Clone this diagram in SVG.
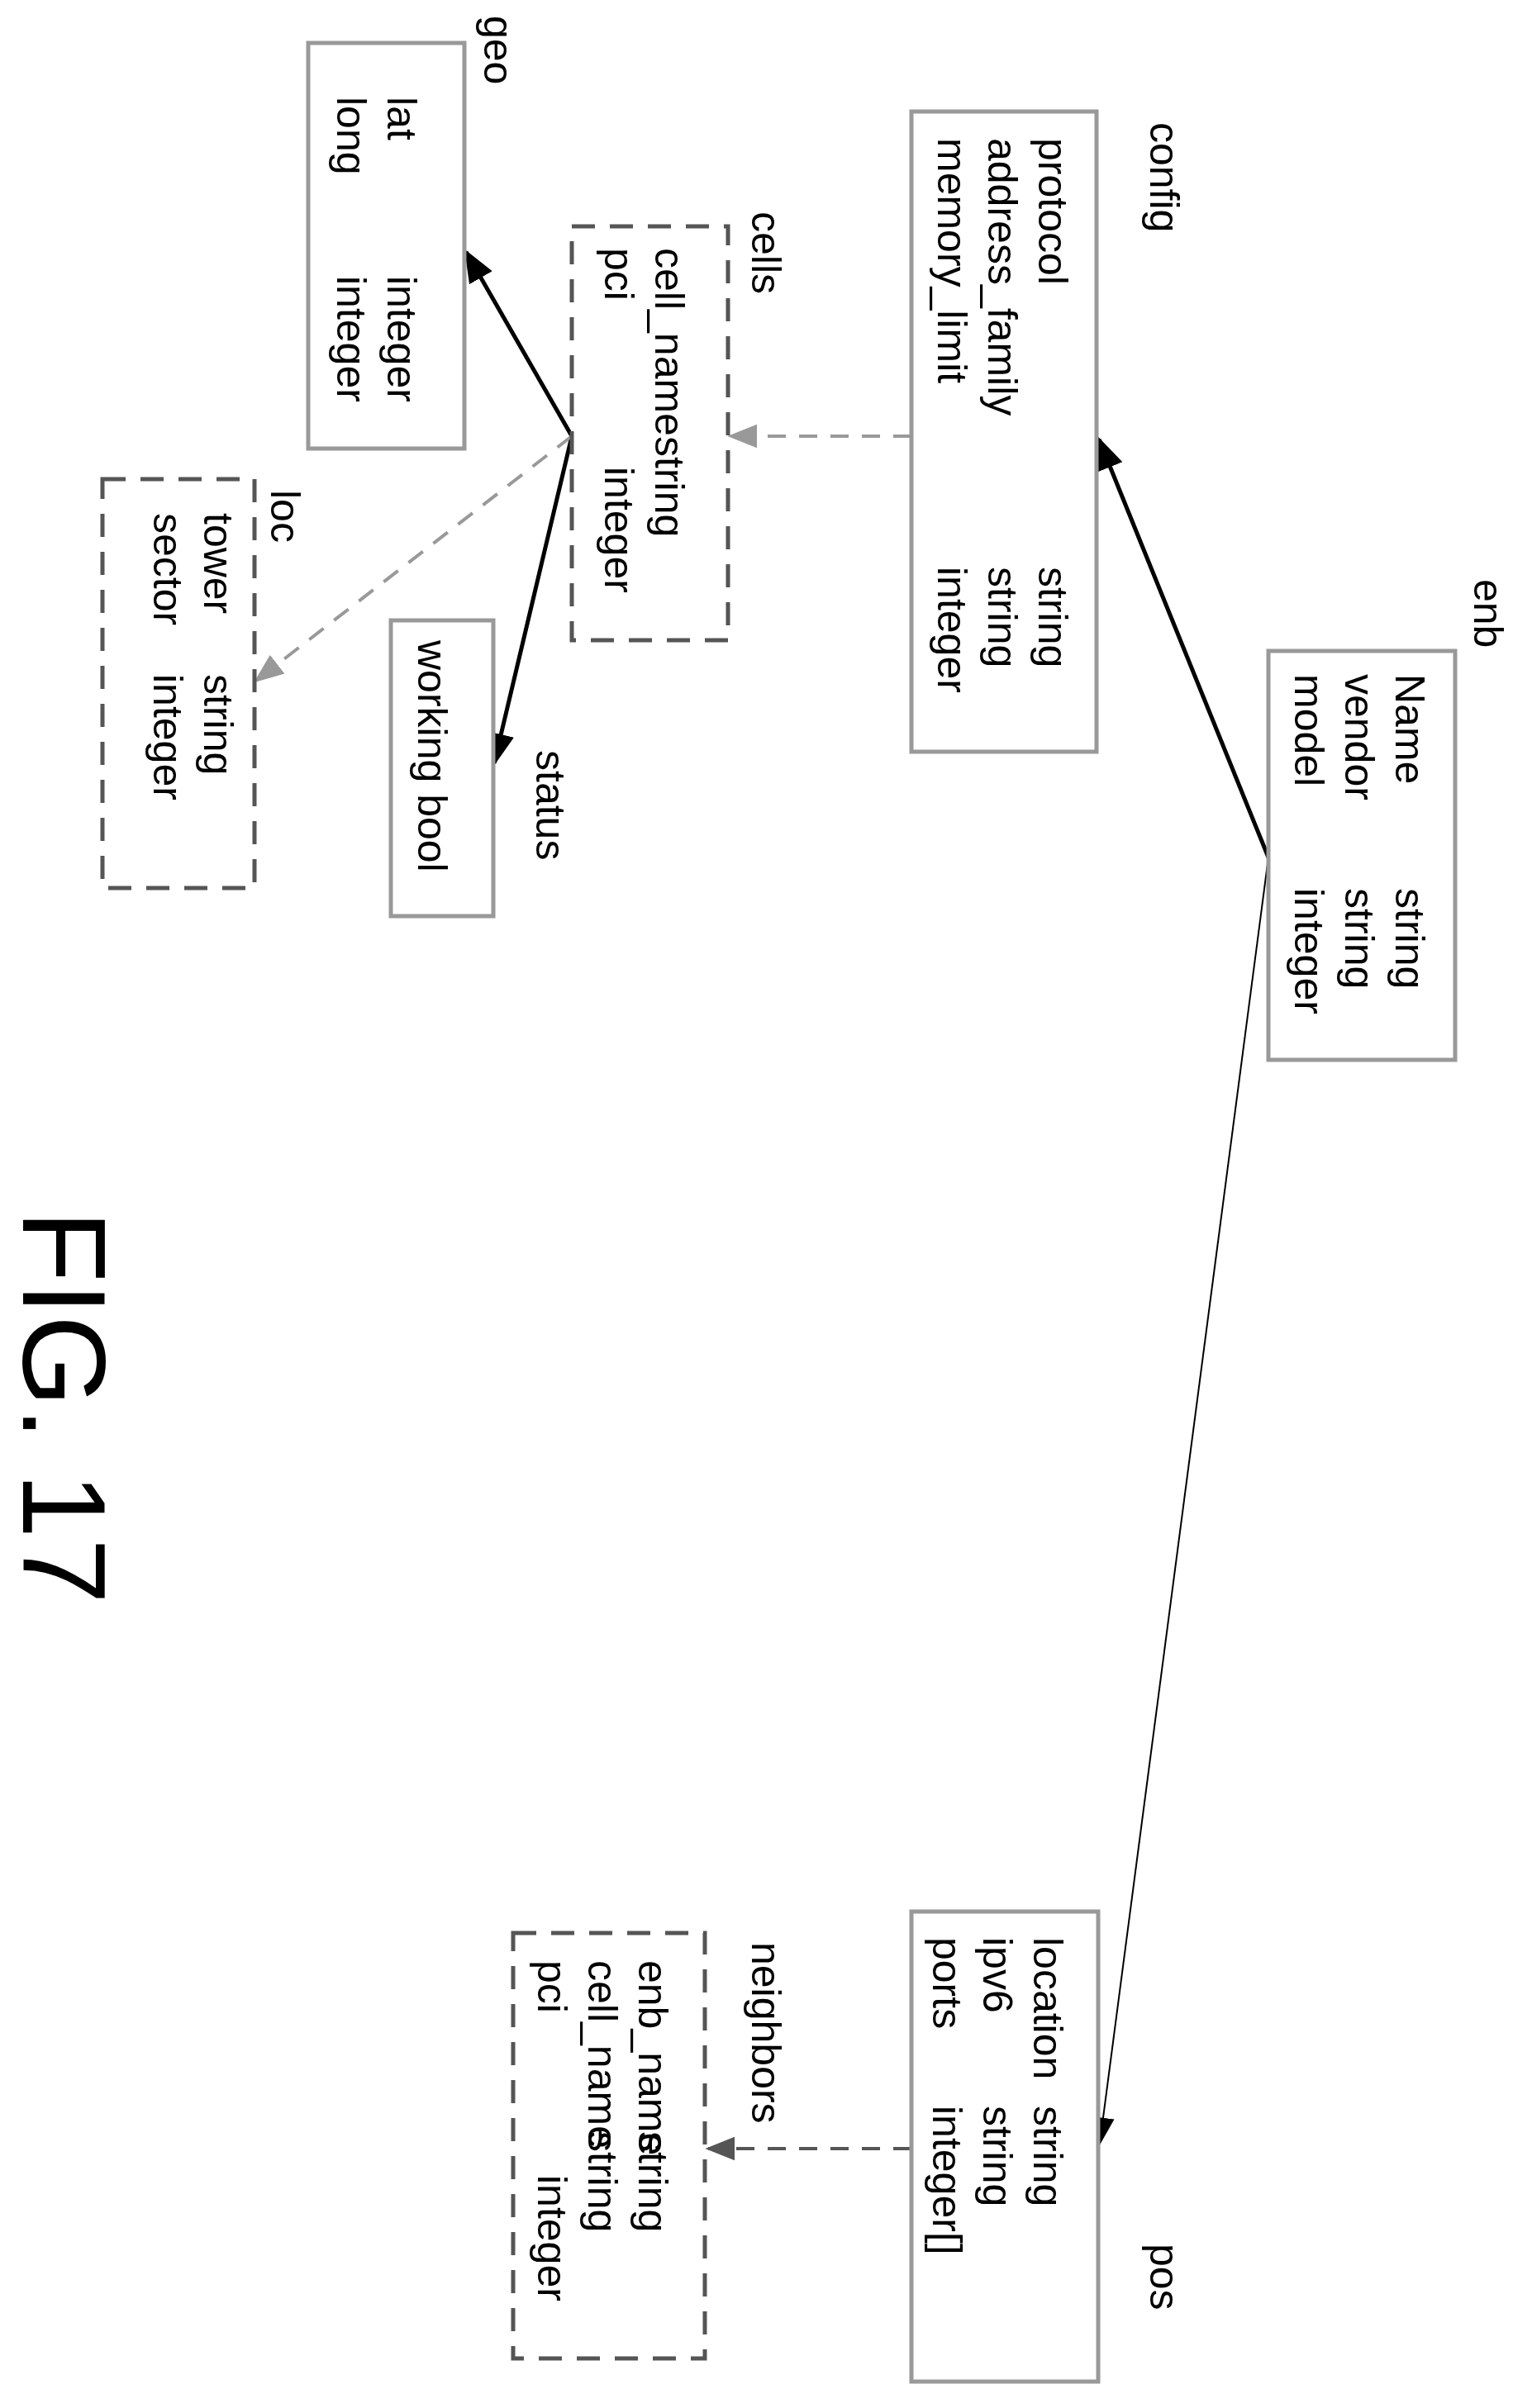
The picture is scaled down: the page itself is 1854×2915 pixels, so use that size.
<svg xmlns="http://www.w3.org/2000/svg" width="1854" height="2915" viewBox="0 0 1854 2915">
<style>
text{font-family:"Liberation Sans",Arial,sans-serif;font-size:50px;fill:#000}
.box{fill:#fff;stroke:#999;stroke-width:5}
.dbox{fill:#fff;stroke:#555;stroke-width:5;stroke-dasharray:28,18}
.c1{stroke:#000;stroke-width:5;fill:none}
.c2{stroke:#000;stroke-width:2;fill:none}
.cd{stroke:#999;stroke-width:4;fill:none;stroke-dasharray:22,16}
.cdd{stroke:#555;stroke-width:4;fill:none;stroke-dasharray:22,16}
</style>
<defs>
<marker id="ab" markerWidth="10" markerHeight="10" refX="9" refY="5" orient="auto" markerUnits="userSpaceOnUse" viewBox="0 0 10 10"><path d="M0,0 L10,5 L0,10 z" fill="#000"/></marker>
<marker id="ag" viewBox="0 0 10 10" refX="9" refY="5" markerWidth="36" markerHeight="36" orient="auto" markerUnits="userSpaceOnUse"><path d="M0,1 L10,5 L0,9 z" fill="#999"/></marker>
<marker id="ad" viewBox="0 0 10 10" refX="9" refY="5" markerWidth="36" markerHeight="36" orient="auto" markerUnits="userSpaceOnUse"><path d="M0,1 L10,5 L0,9 z" fill="#555"/></marker>
<marker id="ak" viewBox="0 0 10 10" refX="9" refY="5" markerWidth="40" markerHeight="40" orient="auto" markerUnits="userSpaceOnUse"><path d="M0,1 L10,5 L0,9 z" fill="#000"/></marker>
<marker id="aks" viewBox="0 0 10 10" refX="9" refY="5" markerWidth="34" markerHeight="34" orient="auto" markerUnits="userSpaceOnUse"><path d="M0,1 L10,5 L0,9 z" fill="#000"/></marker>
</defs>
<g id="connectors">
<line class="c1" x1="1535" y1="1038" x2="1330" y2="532" marker-end="url(#ak)"/>
<line class="c2" x1="1535" y1="1038" x2="1331" y2="2594" marker-end="url(#aks)"/>
<line class="cdd" x1="1103" y1="2601" x2="857" y2="2601" marker-end="url(#ad)"/>
<line class="cd" x1="1103" y1="528" x2="884" y2="528" marker-end="url(#ag)"/>
<line class="c1" x1="692" y1="528" x2="564" y2="305" marker-end="url(#ak)"/>
<line class="c1" x1="692" y1="528" x2="598" y2="924" marker-end="url(#ak)"/>
<line class="cd" x1="692" y1="528" x2="310" y2="824" marker-end="url(#ag)"/>
</g>
<g id="enb">
<rect class="box" x="1535" y="788" width="226" height="495"/>
<text transform="translate(1784,701) rotate(90)">enb</text>
<text transform="translate(1689,816) rotate(90)">Name</text>
<text transform="translate(1628,816) rotate(90)">vendor</text>
<text transform="translate(1567,816) rotate(90)">model</text>
<text transform="translate(1689,1075) rotate(90)">string</text>
<text transform="translate(1628,1075) rotate(90)">string</text>
<text transform="translate(1567,1075) rotate(90)">integer</text>
</g>
<g id="config">
<rect class="box" x="1103" y="135" width="224" height="775"/>
<text transform="translate(1392,148) rotate(90)">config</text>
<text transform="translate(1257,167) rotate(90)">protocol</text>
<text transform="translate(1196,167) rotate(90)">address_family</text>
<text transform="translate(1135,167) rotate(90)">memory_limit</text>
<text transform="translate(1257,686) rotate(90)">string</text>
<text transform="translate(1196,686) rotate(90)">string</text>
<text transform="translate(1135,686) rotate(90)">integer</text>
</g>
<g id="pos">
<rect class="box" x="1103" y="2314" width="226" height="569"/>
<text transform="translate(1392,2716) rotate(90)">pos</text>
<text transform="translate(1251,2345) rotate(90)">location</text>
<text transform="translate(1190,2345) rotate(90)">ipv6</text>
<text transform="translate(1129,2345) rotate(90)">ports</text>
<text transform="translate(1251,2549) rotate(90)">string</text>
<text transform="translate(1190,2549) rotate(90)">string</text>
<text transform="translate(1129,2549) rotate(90)">integer[]</text>
</g>
<g id="neighbors">
<rect class="dbox" x="621" y="2340" width="232" height="515"/>
<text transform="translate(910,2351) rotate(90)">neighbors</text>
<text transform="translate(773,2373) rotate(90)">enb_name</text>
<text transform="translate(712,2373) rotate(90)">cell_name</text>
<text transform="translate(651,2373) rotate(90)">pci</text>
<text transform="translate(773,2580) rotate(90)">string</text>
<text transform="translate(712,2580) rotate(90)">string</text>
<text transform="translate(651,2633) rotate(90)">integer</text>
</g>
<g id="cells">
<rect class="dbox" x="692" y="274" width="189" height="501"/>
<text transform="translate(910,256) rotate(90)">cells</text>
<text transform="translate(793,300) rotate(90)">cell_name</text>
<text transform="translate(732,300) rotate(90)">pci</text>
<text transform="translate(793,528) rotate(90)">string</text>
<text transform="translate(732,565) rotate(90)">integer</text>
</g>
<g id="geo">
<rect class="box" x="373" y="52" width="189" height="491"/>
<text transform="translate(586,19) rotate(90)">geo</text>
<text transform="translate(469,117) rotate(90)">lat</text>
<text transform="translate(408,117) rotate(90)">long</text>
<text transform="translate(469,334) rotate(90)">integer</text>
<text transform="translate(408,334) rotate(90)">integer</text>
</g>
<g id="status">
<rect class="box" x="473" y="751" width="124" height="358"/>
<text transform="translate(649,908) rotate(90)">status</text>
<text transform="translate(506,775) rotate(90)">working bool</text>
</g>
<g id="loc">
<rect class="dbox" x="124" y="580" width="184" height="495"/>
<text transform="translate(328,593) rotate(90)">loc</text>
<text transform="translate(247,621) rotate(90)">tower</text>
<text transform="translate(186,621) rotate(90)">sector</text>
<text transform="translate(247,816) rotate(90)">string</text>
<text transform="translate(186,816) rotate(90)">integer</text>
</g>
<text transform="translate(28,1465) rotate(90)" style="font-size:143px">FIG. 17</text>
</svg>
